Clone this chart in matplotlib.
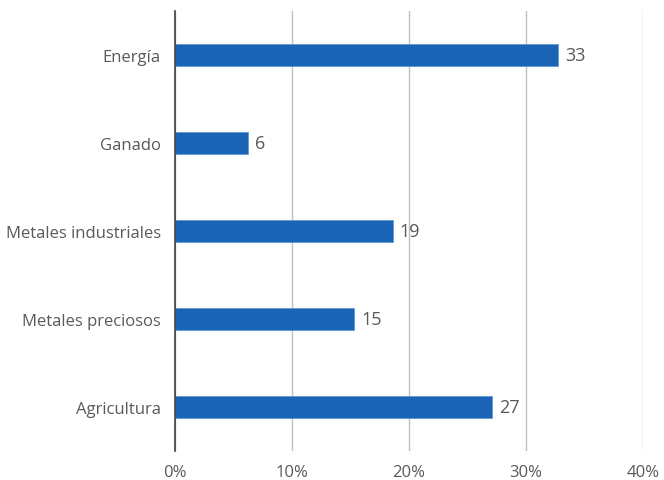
import matplotlib.pyplot as plt
import matplotlib

matplotlib.rcParams['font.family'] = ['Open Sans', 'DejaVu Sans']

# datos (de arriba hacia abajo)
categorias = ['Energía', 'Ganado', 'Metales industriales', 'Metales preciosos', 'Agricultura']
valores = [32.7, 6.3, 18.6, 15.3, 27.1]
etiquetas = ['33', '6', '19', '15', '27']
ticks_x = [0, 10, 20, 30, 40]

gris = '#595959'
azul = '#1a63b5'

fig = plt.figure(figsize=(6.64, 4.81), dpi=100)
ax = fig.add_axes([0.263, 0.060, 0.706, 0.915])

pos = list(range(len(categorias)))[::-1]
ax.barh(pos, valores, height=0.25, color=azul, edgecolor='#5b9bd5', linewidth=0.6, zorder=3)
for p, v, t in zip(pos, valores, etiquetas):
    ax.text(v + 0.6, p, t, va='center', ha='left', fontsize=13, color=gris)

ax.set_xlim(0, 40)
ax.set_ylim(-0.5, 4.5)
ax.set_xticks(ticks_x)
ax.set_xticklabels([f'{t}%' for t in ticks_x])
ax.set_yticks(pos)
ax.set_yticklabels(categorias)
ax.tick_params(axis='both', length=0, labelsize=12, colors=gris)
ax.tick_params(axis='y', pad=10)
ax.tick_params(axis='x', pad=9)

ax.grid(axis='x', color='#bfbfbf', linewidth=1, zorder=0)
for s in ['top', 'right', 'bottom']:
    ax.spines[s].set_visible(False)
ax.spines['left'].set_color('#404040')
ax.spines['left'].set_linewidth(1.2)
ax.spines['left'].set_zorder(4)

plt.savefig('out.png', dpi=100)
